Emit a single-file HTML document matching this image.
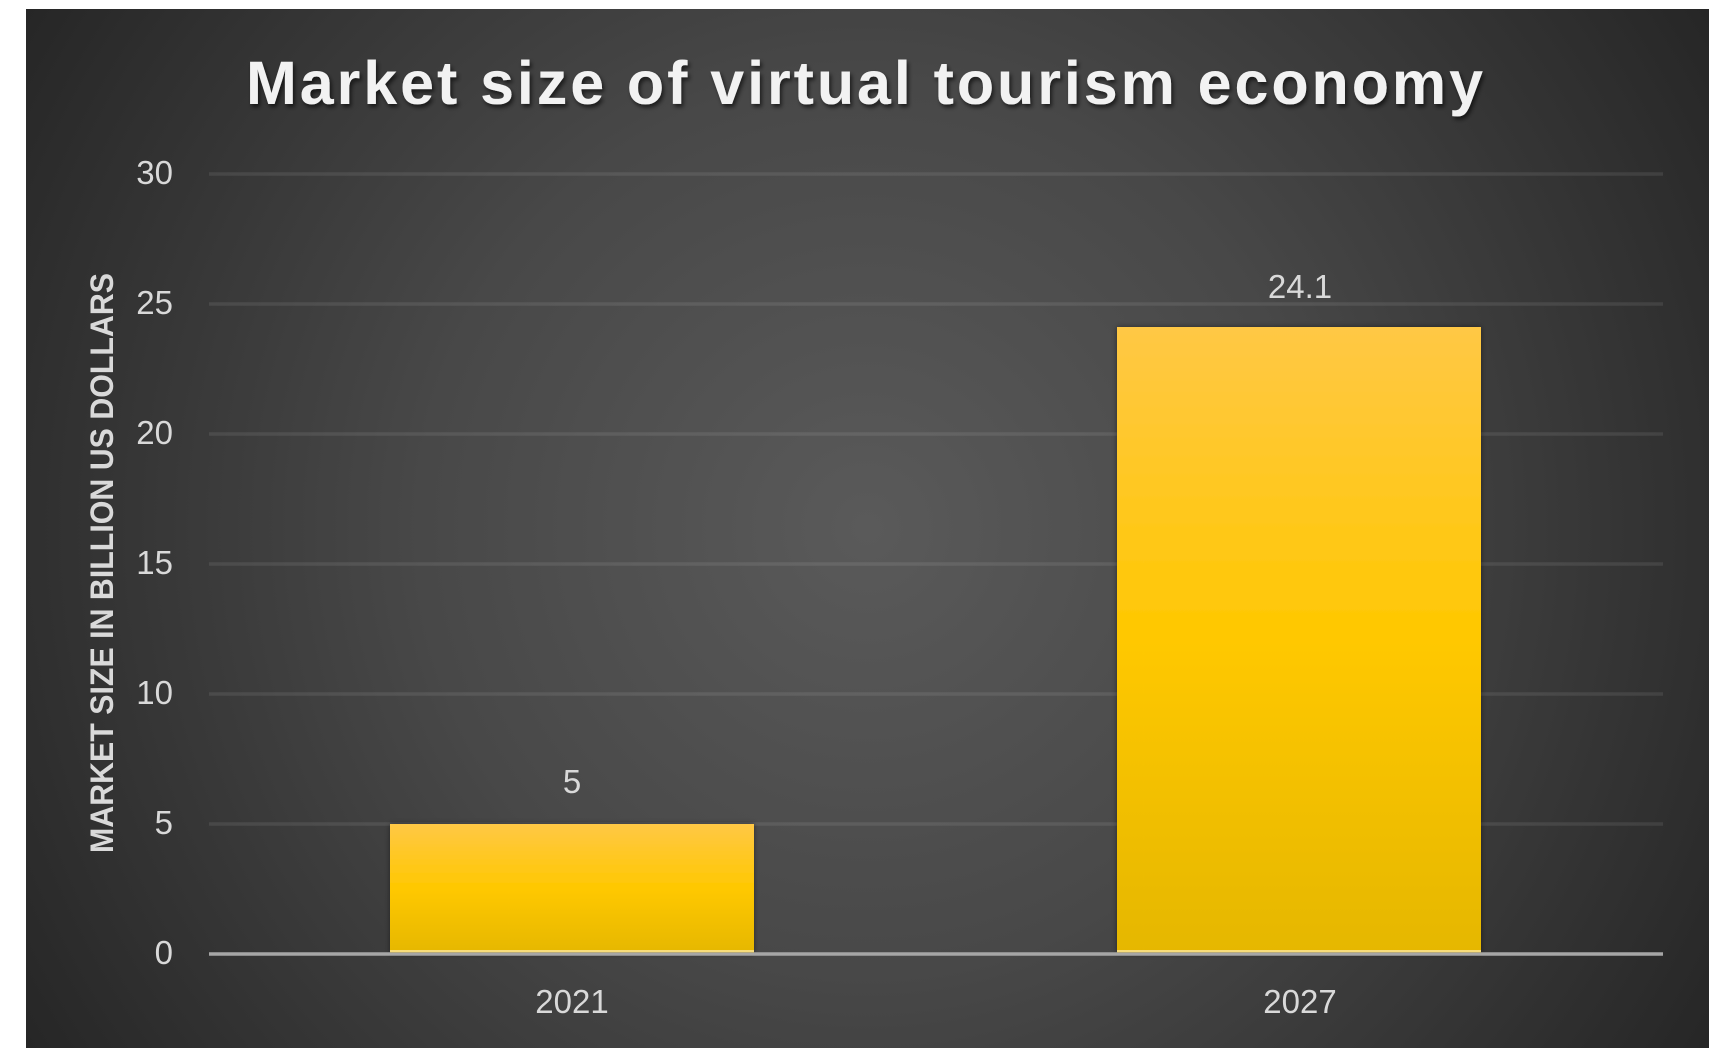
<!DOCTYPE html>
<html>
<head>
<meta charset="utf-8">
<style>
html,body{margin:0;padding:0;background:#fff;}
svg{display:block;}
</style>
</head>
<body>
<svg width="1718" height="1048" viewBox="0 0 1718 1048" xmlns="http://www.w3.org/2000/svg">
  <defs>
    <radialGradient id="bg" gradientUnits="userSpaceOnUse" cx="867" cy="528" r="990">
      <stop offset="0" stop-color="#5a5a5a"/>
      <stop offset="0.45" stop-color="#484848"/>
      <stop offset="1" stop-color="#262626"/>
    </radialGradient>
    <linearGradient id="bar" x1="0" y1="0" x2="0" y2="1">
      <stop offset="0" stop-color="#ffc845"/>
      <stop offset="0.5" stop-color="#ffc800"/>
      <stop offset="1" stop-color="#e5b700"/>
    </linearGradient>
    <filter id="sh" x="-10%" y="-10%" width="120%" height="120%">
      <feDropShadow dx="0" dy="0" stdDeviation="3" flood-color="#000" flood-opacity="0.45"/>
    </filter>
    <filter id="tsh" x="-5%" y="-20%" width="110%" height="150%">
      <feDropShadow dx="2" dy="3" stdDeviation="2" flood-color="#000" flood-opacity="0.6"/>
    </filter>
  </defs>

  <rect x="26" y="9" width="1683" height="1039" fill="url(#bg)"/>

  <!-- title -->
  <text x="246" y="104" font-family="Liberation Sans, sans-serif" font-weight="bold" font-size="61" fill="#f2f2f2" textLength="1237" lengthAdjust="spacing" filter="url(#tsh)">Market size of virtual tourism economy</text>

  <!-- gridlines -->
  <g stroke="rgba(255,255,255,0.085)" stroke-width="3.5">
    <line x1="209" y1="174" x2="1663" y2="174"/>
    <line x1="209" y1="304" x2="1663" y2="304"/>
    <line x1="209" y1="434" x2="1663" y2="434"/>
    <line x1="209" y1="564" x2="1663" y2="564"/>
    <line x1="209" y1="694" x2="1663" y2="694"/>
    <line x1="209" y1="824" x2="1663" y2="824"/>
  </g>

  <!-- y tick labels -->
  <g font-family="Liberation Sans, sans-serif" font-size="33" fill="#d9d9d9" text-anchor="end">
    <text x="173" y="184">30</text>
    <text x="173" y="314">25</text>
    <text x="173" y="444">20</text>
    <text x="173" y="574">15</text>
    <text x="173" y="704">10</text>
    <text x="173" y="834">5</text>
    <text x="173" y="964">0</text>
  </g>

  <!-- y axis title -->
  <text transform="translate(113,563) rotate(-90)" x="0" y="0" text-anchor="middle" font-family="Liberation Sans, sans-serif" font-weight="bold" font-size="32" fill="#d9d9d9" textLength="580" lengthAdjust="spacingAndGlyphs">MARKET SIZE IN BILLION US DOLLARS</text>

  <!-- bars -->
  <rect x="390" y="824" width="364" height="130" fill="url(#bar)" filter="url(#sh)"/>
  <rect x="1117" y="327" width="364" height="627" fill="url(#bar)" filter="url(#sh)"/>
  <rect x="390" y="950" width="364" height="2" fill="#f7dc7a"/>
  <rect x="1117" y="950" width="364" height="2" fill="#f7dc7a"/>

  <!-- axis line -->
  <line x1="209" y1="954" x2="1663" y2="954" stroke="#a6a6a6" stroke-width="3.5"/>

  <!-- data labels -->
  <g font-family="Liberation Sans, sans-serif" font-size="33" fill="#d9d9d9" text-anchor="middle">
    <text x="572" y="793">5</text>
    <text x="1300" y="298">24.1</text>
    <text x="572" y="1013">2021</text>
    <text x="1300" y="1013">2027</text>
  </g>
</svg>
</body>
</html>
